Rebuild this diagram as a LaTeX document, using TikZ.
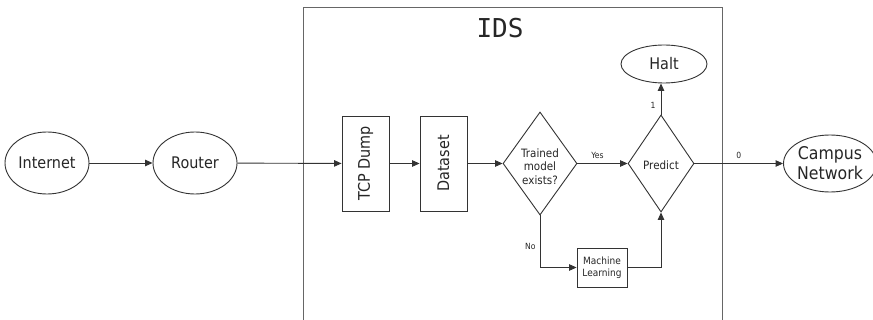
\documentclass[tikz,border=0pt]{standalone}
\usepackage{fontspec}
\setmainfont{DejaVu Sans}[FakeStretch=0.9]
\newfontfamily\idsfont{DejaVu Sans Mono}
\usetikzlibrary{shapes.geometric,arrows.meta}

% font size with an explicit line distance
\newcommand{\fsz}[2]{\fontsize{#1}{#2}\selectfont}
\newcommand{\fs}[1]{\fontsize{#1}{#1}\selectfont}

\tikzset{
  x=1pt, y=-1pt,
  every node/.style={inner sep=0pt, text=black!85},
  line/.style={draw=black!80, line width=0.9pt},
  flow/.style={line, -{Triangle[length=7.5pt,width=6.5pt]}},
  oval/.style={ellipse, line},
  block/.style={rectangle, line},
  decision/.style={diamond, line},
  lbl/.style={font=\fs{8.5}},
}

\begin{document}
\begin{tikzpicture}
  \useasboundingbox (0,0) rectangle (873,320);
  \fill[white] (0,0) rectangle (873,320);

  % IDS enclosure (open at the bottom)
  \draw[draw=black!60, line width=0.9pt] (303,320) -- (303,7) -- (722,7) -- (722,320);
  \node (ids) at (500,28) {\idsfont\fs{26}IDS};

  % outside nodes
  \node[oval, minimum width=84pt, minimum height=62pt] (inet) at (47,163) {\fs{16}Internet};
  \node[oval, minimum width=84pt, minimum height=62pt] (router) at (195,163) {\fs{16}Router};
  \node[oval, minimum width=84pt, minimum height=57pt, align=center,
        font=\fsz{17.5}{20}] (campus) at (830,163.5) {Campus\\Network};

  % IDS pipeline
  \node[block, minimum width=47pt, minimum height=95pt,
        label={[rotate=90, font=\fs{16}]center:TCP Dump}] (tcp) at (365.5,163.5) {};
  \node[block, minimum width=47pt, minimum height=95pt,
        label={[rotate=90, font=\fs{16}]center:Dataset}] (data) at (443.5,163.5) {};
  \node[decision, minimum width=74pt, minimum height=103pt,
        label={[align=center, font=\fsz{11.5}{13.5}, yshift=-3pt]center:Trained\\model\\exists?}]
        (d1) at (540,163.5) {};
  \node[decision, minimum width=66pt, minimum height=97pt,
        label={[font=\fs{11.5}, yshift=-2pt]center:Predict}] (pred) at (661,163.5) {};
  \node[oval, minimum width=86pt, minimum height=38pt] (halt) at (664,64) {\fs{16}Halt};
  \node[block, minimum width=50pt, minimum height=39pt, align=center, font=\fsz{10}{11.5}]
        (ml) at (602,267.5) {Machine\\Learning};

  % connectors
  \draw[flow] (inet) -- (router);
  \draw[flow] (router) -- (tcp);
  \draw[flow] (tcp) -- (data);
  \draw[flow] (data) -- (d1);
  \draw[flow] (d1.east) -- node[lbl, above=4pt, pos=0.4] {Yes} (pred.west);
  \draw[flow] (d1.south) -- node[lbl, left=4pt, pos=0.6] {No} (d1.south |- ml.west) -- (ml.west);
  \draw[flow] (ml.east) -| (pred.south);
  \draw[flow] (pred.north) -- node[lbl, left=5pt, pos=0.3] {1} (pred.north |- halt.south);
  \draw[flow] (pred.east) -- node[lbl, above=4pt, pos=0.5] {0} (campus.west);
\end{tikzpicture}
\end{document}
